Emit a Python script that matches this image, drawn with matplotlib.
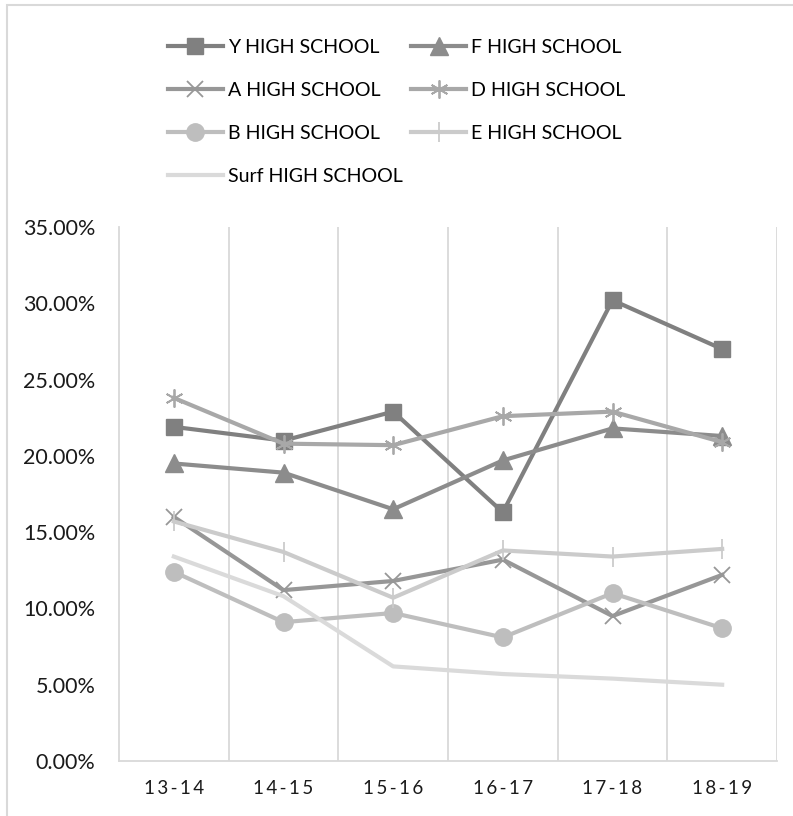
import matplotlib
matplotlib.use("Agg")
import matplotlib.pyplot as plt
from matplotlib.patches import Rectangle
from matplotlib.ticker import FuncFormatter

plt.rcParams['font.family'] = ['Lato', 'DejaVu Sans']

# School years on the x axis
years = ['13-14', '14-15', '15-16', '16-17', '17-18', '18-19']

# Rates per school (fraction of students)
y_school = [0.219, 0.210, 0.229, 0.163, 0.302, 0.270]
f_school = [0.195, 0.189, 0.165, 0.197, 0.218, 0.213]
a_school = [0.160, 0.112, 0.118, 0.132, 0.095, 0.122]
d_school = [0.238, 0.208, 0.207, 0.226, 0.229, 0.209]
b_school = [0.124, 0.091, 0.097, 0.081, 0.110, 0.087]
e_school = [0.157, 0.137, 0.107, 0.138, 0.134, 0.139]
surf_school = [0.134, 0.108, 0.062, 0.057, 0.054, 0.050]

fig = plt.figure(figsize=(7.93, 8.16), dpi=100)
ax = fig.add_axes([119 / 793, 1 - 761 / 816, (777 - 119) / 793, (761 - 227) / 816])

x = [i + 0.5 for i in range(len(years))]
lw = 3.0

series = [
    ('Y HIGH SCHOOL', y_school, '#808080', dict(marker='s', markersize=12)),
    ('F HIGH SCHOOL', f_school, '#8c8c8c', dict(marker='^', markersize=13)),
    ('A HIGH SCHOOL', a_school, '#979797', dict(marker='x', markersize=12, markeredgewidth=1.3)),
    ('D HIGH SCHOOL', d_school, '#a8a8a8', dict(marker=(6, 2, 0), markersize=13, markeredgewidth=1.3)),
    ('B HIGH SCHOOL', b_school, '#bebebe', dict(marker='o', markersize=12.5)),
    ('E HIGH SCHOOL', e_school, '#cbcbcb', dict(marker='|', markersize=14, markeredgewidth=1.3)),
    ('Surf HIGH SCHOOL', surf_school, '#dadada', dict(marker=None)),
]

handles = {}
for name, vals, color, mk in series:
    line, = ax.plot(x, vals, color=color, linewidth=lw, label=name,
                    markerfacecolor=color, markeredgecolor=color,
                    solid_joinstyle='round', **mk)
    handles[name] = line

ax.set_xlim(0, len(years))
ax.set_ylim(0, 0.35)
ax.set_xticks(x)
ax.set_xticklabels(['\u2009'.join(y) for y in years], fontsize=13.5, color='#1a1a1a')
ax.set_xticks(range(1, len(years) + 1), minor=True)
ax.set_yticks([i * 0.05 for i in range(8)])
ax.yaxis.set_major_formatter(FuncFormatter(lambda v, p: f'{v * 100:.2f}%'))
ax.tick_params(axis='y', labelsize=15.5, length=0, pad=17, colors='#1a1a1a')
ax.tick_params(axis='x', which='both', length=0, pad=14)
ax.grid(axis='x', which='minor', color='#d9d9d9', linewidth=1.3)
for side in ['top', 'right']:
    ax.spines[side].set_visible(False)
for side in ['left', 'bottom']:
    ax.spines[side].set_color('#d9d9d9')
    ax.spines[side].set_linewidth(1.3)

order = ['Y HIGH SCHOOL', 'A HIGH SCHOOL', 'B HIGH SCHOOL', 'Surf HIGH SCHOOL',
         'F HIGH SCHOOL', 'D HIGH SCHOOL', 'E HIGH SCHOOL']
fig.legend([handles[n] for n in order], order, ncol=2, loc='upper left',
           bbox_to_anchor=(160 / 793, 1 - 31 / 816), frameon=False,
           fontsize=14.1, handlelength=2.8, handletextpad=0.25,
           columnspacing=0.45, labelspacing=1.33, borderaxespad=0)

# light chart-area border
fig.patches.append(Rectangle((7 / 793, -0.1), 1.2, 1 - 5 / 816 + 0.1,
                             transform=fig.transFigure, fill=False,
                             edgecolor='#d9d9d9', linewidth=1.5))

fig.savefig('out.png', dpi=100, facecolor='white')
